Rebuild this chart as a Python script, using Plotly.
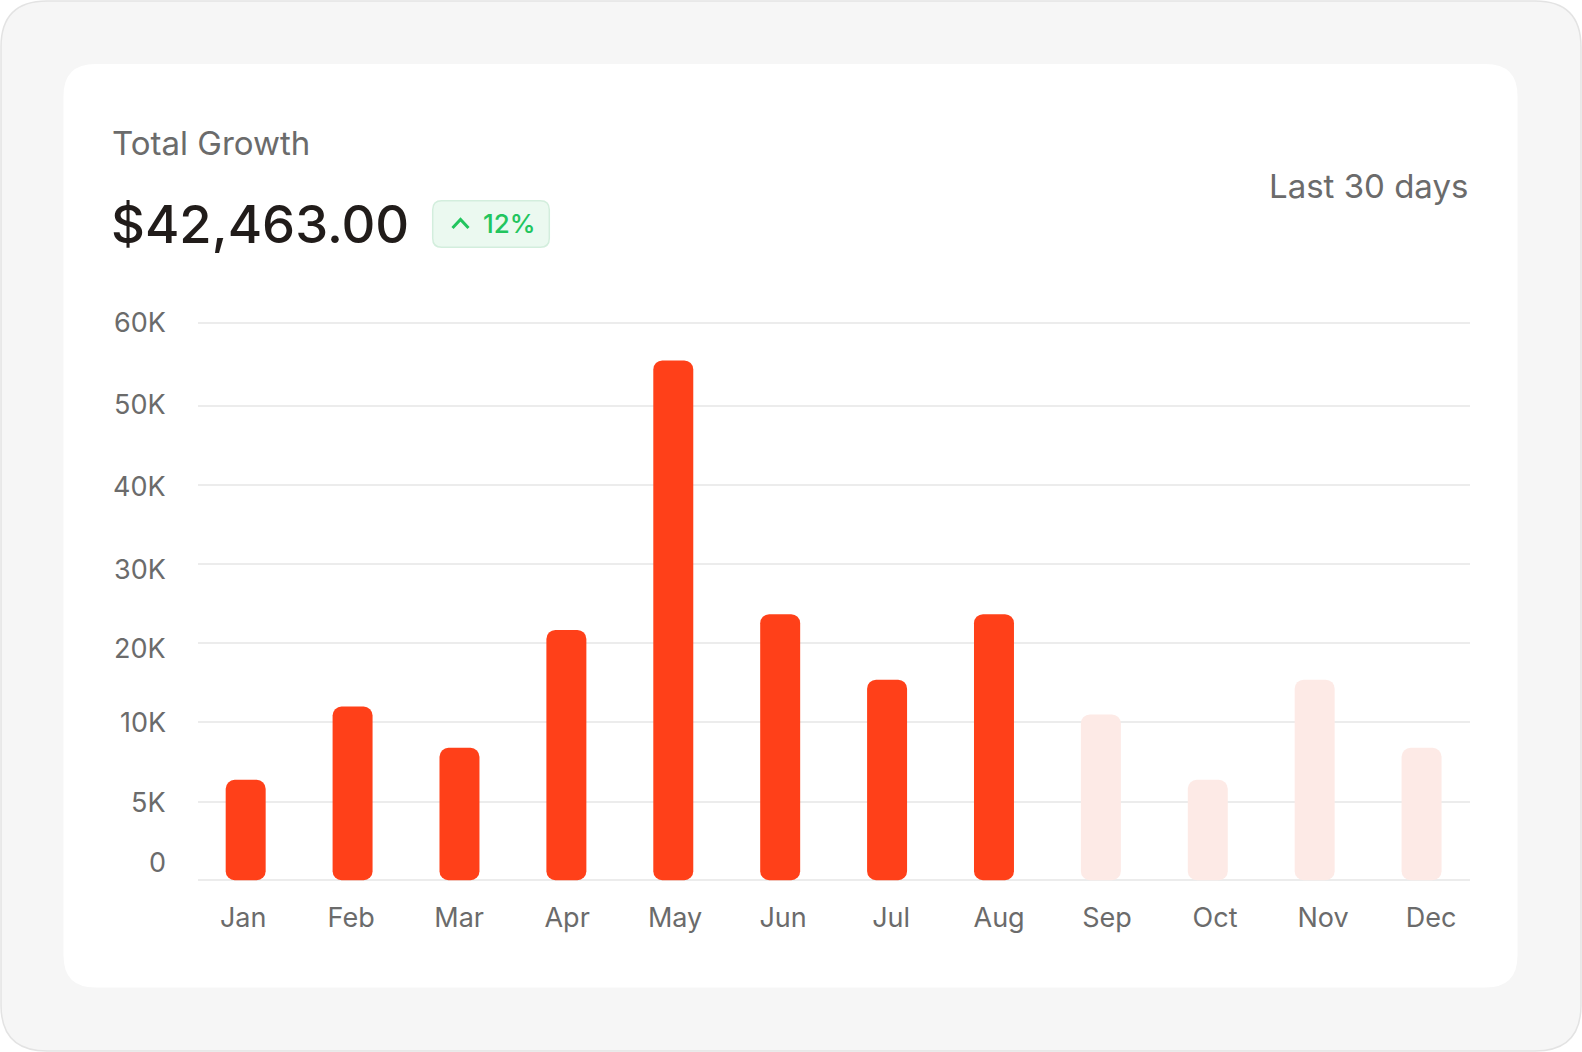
import numpy as np
import plotly.graph_objects as go

months = ["Jan", "Feb", "Mar", "Apr", "May", "Jun", "Jul", "Aug", "Sep", "Oct", "Nov", "Dec"]
growth = [6400, 12000, 8400, 21700, 55500, 23700, 15400, 23700, 11000, 6400, 15400, 8400]
projected = [False, False, False, False, False, False, False, False, True, True, True, True]
tick_values = [0, 5000, 10000, 20000, 30000, 40000, 50000, 60000]
tick_labels = ["0", "5K", "10K", "20K", "30K", "40K", "50K", "60K"]
card_title = "Total Growth"
card_total = "$42,463.00"
card_change = "12%"
card_period = "Last 30 days"

# the y scale puts every tick one step apart (top step a bit taller)
GRID_STEPS = [0, 0.99, 2, 3, 4, 5, 6, 7.06]
LABEL_STEPS = [0.22, 0.98, 2, 2.94, 3.93, 4.99, 6.02, 7.06]  # "0" sits above the baseline

W, H = 1582, 1052
Y_RANGE = [-0.06, 7.12]
PX_PER_STEP = 79.04
L, R = 198, 112
T = round(322.3 - (Y_RANGE[1] - 7.06) * PX_PER_STEP)
B = round(H - (880.3 + (0 - Y_RANGE[0]) * PX_PER_STEP))
RED = "#FF4019"
PALE = "#FDEAE6"
GRAY = "#6B6B6B"
FONT = "Inter"


def px(x):
    # pixel -> paper x
    return (x - L) / (W - L - R)


def py(y):
    # pixel -> paper y
    return (H - B - y) / (H - T - B)


def rounded_rect(x0, y0, x1, y1, r):
    return (f"M {px(x0 + r)},{py(y0)} L {px(x1 - r)},{py(y0)} "
            f"Q {px(x1)},{py(y0)} {px(x1)},{py(y0 + r)} L {px(x1)},{py(y1 - r)} "
            f"Q {px(x1)},{py(y1)} {px(x1 - r)},{py(y1)} L {px(x0 + r)},{py(y1)} "
            f"Q {px(x0)},{py(y1)} {px(x0)},{py(y1 - r)} L {px(x0)},{py(y0 + r)} "
            f"Q {px(x0)},{py(y0)} {px(x0 + r)},{py(y0)} Z")


y_pos = np.interp(growth, tick_values, GRID_STEPS)
colors = [PALE if p else RED for p in projected]

fig = go.Figure()
# explicit base -> plotly rounds both ends of the bar
fig.add_trace(go.Bar(x=months, y=y_pos, base=[0] * len(months), width=0.374,
                     marker=dict(color=colors, line_width=0), customdata=growth,
                     hovertemplate="%{x}: $%{customdata:,}<extra></extra>"))
# invisible copy on x2, only so the month axis (spread a bit wider) gets drawn
fig.add_trace(go.Scatter(x=months, y=y_pos, xaxis="x2", mode="markers",
                         marker=dict(opacity=0), hoverinfo="skip"))

shapes = [
    dict(type="path", path=rounded_rect(1, 1, 1581, 1051, 46), xref="paper", yref="paper",
         fillcolor="#F6F6F6", line=dict(color="#E3E3E3", width=1.5), layer="below"),
    dict(type="path", path=rounded_rect(63.5, 64, 1517.5, 987.5, 32), xref="paper", yref="paper",
         fillcolor="white", line_width=0, layer="below"),
    dict(type="path", path=rounded_rect(432.7, 200.7, 549.3, 247.3, 9), xref="paper", yref="paper",
         fillcolor="#EBF9F0", line=dict(color="#D3EEDD", width=1.5), layer="below"),
    dict(type="path", xref="paper", yref="paper",
         path=f"M {px(452.5)},{py(228)} L {px(460.5)},{py(219.5)} L {px(468.5)},{py(228)}",
         line=dict(color="#22C55E", width=3)),
]

annotations = [
    dict(text=card_title, x=px(110), y=py(142.7), xanchor="left", yanchor="middle",
         font=dict(family=FONT, size=33, color=GRAY)),
    dict(text=card_total, x=px(109), y=py(223.7), xanchor="left", yanchor="middle",
         font=dict(family=FONT, size=52.5, color="#211C1A", weight=500)),
    dict(text=card_change, x=px(481), y=py(223.8), xanchor="left", yanchor="middle",
         font=dict(family=FONT, size=26, color="#22C55E", weight=500)),
    dict(text=card_period, x=px(1470), y=py(185.5), xanchor="right", yanchor="middle",
         font=dict(family=FONT, size=33, color=GRAY)),
]
for lab, pos in zip(tick_labels, LABEL_STEPS):
    annotations.append(dict(text=lab, x=px(168), y=pos, xref="paper", yref="y",
                            xanchor="right", yanchor="middle",
                            font=dict(family=FONT, size=27, color=GRAY)))
for a in annotations:
    a.setdefault("xref", "paper")
    a.setdefault("yref", "paper")
    a["showarrow"] = False

fig.update_layout(
    width=W, height=H,
    margin=dict(l=L, r=R, t=T, b=B, pad=0),
    paper_bgcolor="white",
    plot_bgcolor="rgba(0,0,0,0)",
    barmode="overlay",
    barcornerradius=9,
    showlegend=False,
    hovermode="closest",
    shapes=shapes,
    annotations=annotations,
    font=dict(family=FONT),
    xaxis=dict(range=[-0.446, 11.453], showgrid=False, zeroline=False, showline=False,
               ticks="", showticklabels=False),
    # month labels are spread a little wider than the bars
    xaxis2=dict(overlaying="x", anchor="y", side="bottom", type="category",
                range=[-0.4186, 11.361], showgrid=False, zeroline=False, showline=False,
                ticks="", ticklabelstandoff=14,
                tickfont=dict(family=FONT, size=27, color=GRAY)),
    yaxis=dict(range=Y_RANGE, tickvals=GRID_STEPS, showticklabels=False,
               gridcolor="#ECECEC", gridwidth=2, zeroline=False, showline=False, fixedrange=True),
)

fig.write_html("out.html", config={"displayModeBar": False},
               post_script="document.body.style.margin='0px';")
